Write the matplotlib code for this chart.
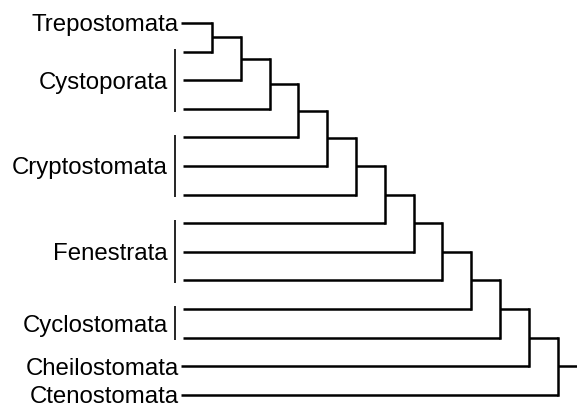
import matplotlib
matplotlib.use('Agg')
import matplotlib.pyplot as plt

# clades from top to bottom, with number of terminal branches each
clades = ["Trepostomata", "Cystoporata", "Cryptostomata", "Fenestrata",
          "Cyclostomata", "Cheilostomata", "Ctenostomata"]
n_tips = [1, 3, 3, 3, 2, 1, 1]

plt.rcParams['font.family'] = ['Liberation Sans', 'DejaVu Sans']

fig = plt.figure(figsize=(5.77, 4.06), dpi=100)
ax = fig.add_axes([0, 0, 1, 1])
ax.set_xlim(-7.36, 12.67)
ax.set_ylim(13.36, -0.84)
ax.axis('off')

lw = 1.8
fs = 17.3
# tip positions: one row per terminal branch
tips = []
row = 0
for name, n in zip(clades, n_tips):
    rows = list(range(row, row + n))
    tips.append(rows)
    row += n
n_leaves = row

# leaf branches and labels
for name, rows in zip(clades, tips):
    if len(rows) == 1:
        y = rows[0]
        ax.text(-1.15, y + 0.26, name, ha='right', va='baseline', fontsize=fs)
        x_start = -1.08
    else:
        mid = (rows[0] + rows[-1]) / 2
        ax.text(-1.53, mid + 0.26, name, ha='right', va='baseline', fontsize=fs)
        ax.plot([-1.285, -1.285], [rows[0] - 0.1, rows[-1] + 0.1], color='black', lw=1.2,
                solid_capstyle='butt')
        x_start = -1.01
    for r in rows:
        # each tip runs to the node that joins it
        node = max(r - 1, 0)
        ax.plot([x_start, node], [r, r], color='black', lw=lw, solid_capstyle='butt')

# pectinate tree: each node joins the previous node with the next tip
prev_y = 0
for k in range(n_leaves - 1):
    new_y = k + 1
    ax.plot([k, k], [prev_y, new_y], color='black', lw=lw, solid_capstyle='projecting')
    mid = (prev_y + new_y) / 2
    end = k + 1 if k < n_leaves - 2 else 12.67
    ax.plot([k, end], [mid, mid], color='black', lw=lw, solid_capstyle='butt')
    prev_y = mid

plt.savefig('out.png', dpi=100)
